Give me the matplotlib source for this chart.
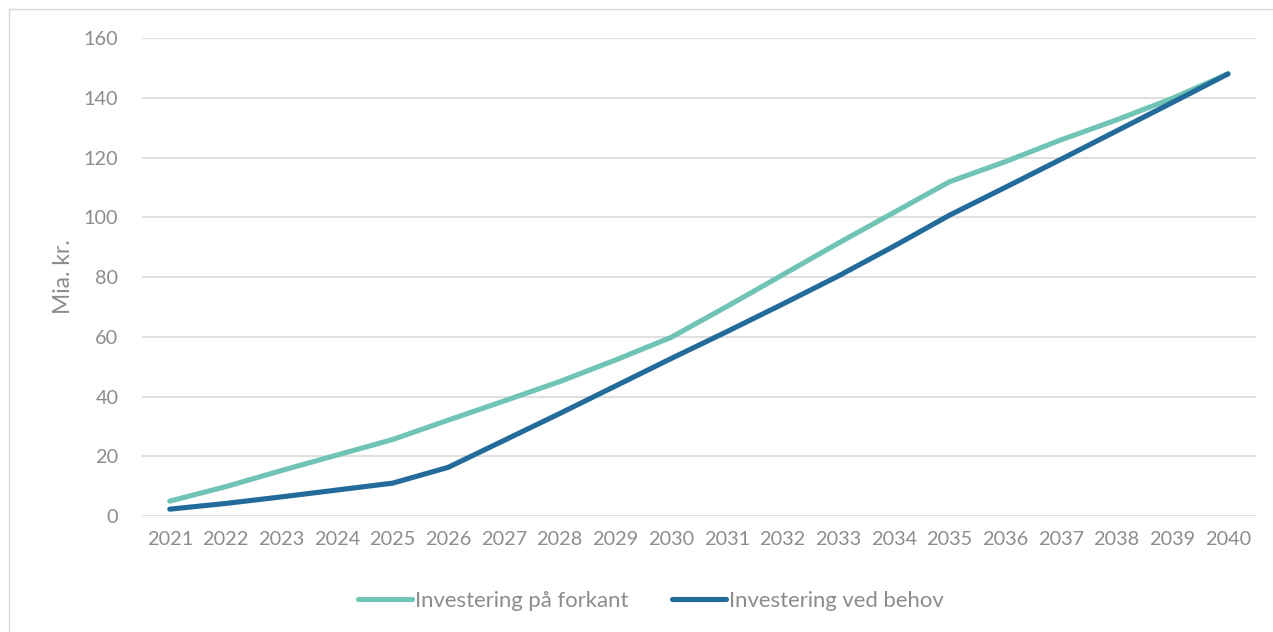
import matplotlib
matplotlib.use("Agg")
import matplotlib.pyplot as plt
from matplotlib.lines import Line2D

years = list(range(2021, 2041))
forkant = [5.0, 9.8, 15.2, 20.4, 25.6, 32.1, 38.5, 45.0, 52.2, 59.8,
           70.1, 80.7, 91.3, 101.6, 111.9, 118.6, 125.9, 132.6, 139.8, 148.0]
behov = [2.3, 4.2, 6.4, 8.7, 11.0, 16.3, 25.3, 34.3, 43.5, 52.7,
         61.7, 70.9, 80.3, 90.3, 100.7, 110.0, 119.4, 128.9, 138.4, 148.0]
series_labels = ["Investering på forkant", "Investering ved behov"]
y_ticks = [0, 20, 40, 60, 80, 100, 120, 140, 160]
y_label = "Mia. kr."

light_col = "#70C4B5"
dark_col = "#236B9B"
text_col = "#8C8C8C"
grid_col = "#D9D9D9"

plt.rcParams["font.family"] = ["Lato", "DejaVu Sans"]

fig = plt.figure(figsize=(12.73, 6.32), dpi=100)
ax = fig.add_axes([0.1115, 0.1835, 0.875, 0.7563])

x = list(range(len(years)))
ax.plot(x, forkant, color=light_col, lw=3.7, solid_capstyle="round",
        solid_joinstyle="round", zorder=3)
ax.plot(x, behov, color=dark_col, lw=3.7, solid_capstyle="round",
        solid_joinstyle="round", zorder=4)

ax.set_xlim(-0.5, len(years) - 0.5)
ax.set_ylim(0, 160)
ax.set_yticks(y_ticks)
ax.set_xticks(x)
ax.set_xticklabels([str(y) for y in years])
ax.yaxis.grid(True, color=grid_col, lw=1.2)
ax.set_axisbelow(True)
for s in ax.spines.values():
    s.set_visible(False)
ax.tick_params(axis="both", length=0, labelsize=14.3, colors=text_col)
ax.tick_params(axis="y", pad=17)
ax.tick_params(axis="x", pad=11)
ax.set_ylabel(y_label, fontsize=16.5, color=text_col, labelpad=7)

handles = [Line2D([0], [0], color=light_col, lw=3.7, solid_capstyle="round"),
           Line2D([0], [0], color=dark_col, lw=3.7, solid_capstyle="round")]
leg = fig.legend(handles, series_labels, loc="center", ncol=2,
                 bbox_to_anchor=(0.5115, 0.049), frameon=False, fontsize=15.9,
                 handlelength=2.45, handletextpad=0.15, columnspacing=1.95)
for t in leg.get_texts():
    t.set_color(text_col)

# thin frame around the chart area
fig.add_artist(Line2D([9 / 1273, 9 / 1273], [0, 1 - 9 / 632],
                      transform=fig.transFigure, color="#D9D9D9", lw=1))
fig.add_artist(Line2D([9 / 1273, 1], [1 - 9 / 632, 1 - 9 / 632],
                      transform=fig.transFigure, color="#D9D9D9", lw=1))

fig.savefig("out.png", dpi=100, facecolor="white")
